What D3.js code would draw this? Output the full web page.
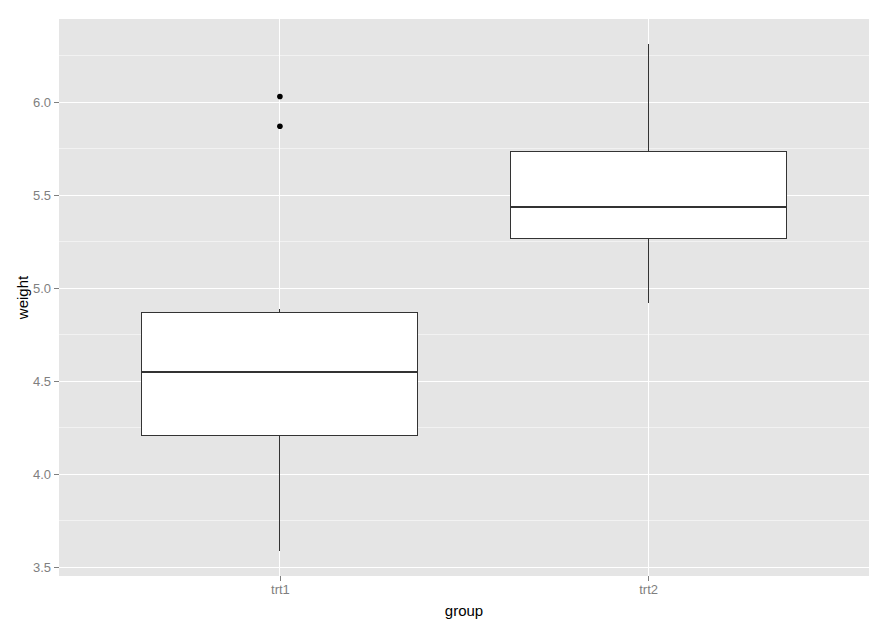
<!DOCTYPE html>
<html>
<head>
<meta charset="utf-8">
<script src="https://cdn.jsdelivr.net/npm/d3@7"></script>
<style>
  body { margin: 0; background: #fff; }
  text { font-family: "Liberation Sans", Arial, sans-serif; }
  line, rect { shape-rendering: crispEdges; }
</style>
</head>
<body>
<div id="chart"></div>
<script>
const groups = ["trt1", "trt2"];
const lowerWhisker = [3.59, 4.92];
const q1 = [4.2075, 5.2675];
const median = [4.55, 5.435];
const q3 = [4.87, 5.735];
const upperWhisker = [4.89, 6.31];
const outliers = [[5.87, 6.03], []];
const yTicks = [3.5, 4.0, 4.5, 5.0, 5.5, 6.0];
const yMinor = [3.75, 4.25, 4.75, 5.25, 5.75, 6.25];

const width = 889, height = 629;
const margin = ({top: 19, right: 20, bottom: 53, left: 59});

const svg = d3.select("#chart")
  .append("svg")
  .attr("width", width)
  .attr("height", height);

// discrete scale: 0.6 expansion each side, boxes 0.75 wide
let x = d3.scaleLinear()
  .domain([0.4, 2.6])
  .range([margin.left, width - margin.right]);

let y = d3.scaleLinear()
  .domain([3.454, 6.446])
  .range([height - margin.bottom, margin.top]);

svg.append("rect")
  .attr("x", margin.left)
  .attr("y", margin.top)
  .attr("width", width - margin.left - margin.right)
  .attr("height", height - margin.top - margin.bottom)
  .attr("fill", "#e5e5e5");

let grid = svg.append("g");

grid.selectAll(".minor")
  .data(yMinor)
  .join("line")
  .attr("x1", margin.left)
  .attr("x2", width - margin.right)
  .attr("y1", d => y(d))
  .attr("y2", d => y(d))
  .attr("stroke", "#f2f2f2")
  .attr("stroke-width", 1);

grid.selectAll(".major")
  .data(yTicks)
  .join("line")
  .attr("x1", margin.left)
  .attr("x2", width - margin.right)
  .attr("y1", d => y(d))
  .attr("y2", d => y(d))
  .attr("stroke", "#fff")
  .attr("stroke-width", 1);

grid.selectAll(".vmajor")
  .data(groups)
  .join("line")
  .attr("x1", (d, i) => x(i + 1))
  .attr("x2", (d, i) => x(i + 1))
  .attr("y1", margin.top)
  .attr("y2", height - margin.bottom)
  .attr("stroke", "#fff")
  .attr("stroke-width", 1);

// axes
let yAxis = svg.append("g")
  .attr("transform", `translate(${margin.left},0)`)
  .call(d3.axisLeft(y).tickValues(yTicks).tickFormat(d3.format(".1f")).tickSize(5).tickPadding(3));
yAxis.select(".domain").remove();
yAxis.selectAll("line").attr("stroke", "#7f7f7f");
yAxis.selectAll("text").attr("fill", "#7f7f7f").attr("font-size", 13).attr("font-family", "Liberation Sans, Arial, sans-serif");

let xAxis = svg.append("g")
  .attr("transform", `translate(0,${height - margin.bottom})`)
  .call(d3.axisBottom(x).tickValues([1, 2]).tickFormat((d, i) => groups[i]).tickSize(5).tickPadding(4));
xAxis.select(".domain").remove();
xAxis.selectAll("line").attr("stroke", "#7f7f7f");
xAxis.selectAll("text").attr("fill", "#7f7f7f").attr("font-size", 13).attr("font-family", "Liberation Sans, Arial, sans-serif");

// boxes
let g = svg.append("g");
groups.forEach((grp, i) => {
  let cx = x(i + 1);
  let x0 = x(i + 1 - 0.375), x1 = x(i + 1 + 0.375);

  g.append("line")
    .attr("x1", cx).attr("x2", cx)
    .attr("y1", y(upperWhisker[i])).attr("y2", y(q3[i]))
    .attr("stroke", "#333");
  g.append("line")
    .attr("x1", cx).attr("x2", cx)
    .attr("y1", y(q1[i])).attr("y2", y(lowerWhisker[i]))
    .attr("stroke", "#333");

  g.append("rect")
    .attr("x", x0)
    .attr("y", y(q3[i]))
    .attr("width", x1 - x0)
    .attr("height", y(q1[i]) - y(q3[i]))
    .attr("fill", "#fff")
    .attr("stroke", "#333");

  g.append("line")
    .attr("x1", x0).attr("x2", x1)
    .attr("y1", y(median[i])).attr("y2", y(median[i]))
    .attr("stroke", "#333")
    .attr("stroke-width", 2);

  g.selectAll(".out" + i)
    .data(outliers[i])
    .join("circle")
    .attr("cx", cx)
    .attr("cy", d => y(d))
    .attr("r", 2.8)
    .attr("fill", "#000");
});

svg.append("text")
  .text("group")
  .attr("x", x(1.5))
  .attr("y", 616)
  .attr("text-anchor", "middle")
  .attr("font-size", 15)
  .attr("fill", "#000");

svg.append("text")
  .text("weight")
  .attr("transform", `translate(28,${(margin.top + height - margin.bottom) / 2}) rotate(-90)`)
  .attr("text-anchor", "middle")
  .attr("font-size", 15)
  .attr("fill", "#000");
</script>
</body>
</html>
